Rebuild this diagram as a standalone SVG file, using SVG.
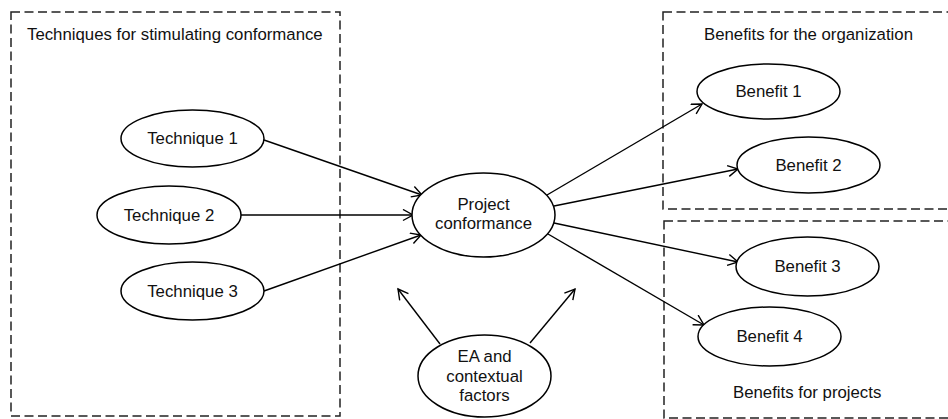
<svg xmlns="http://www.w3.org/2000/svg" width="948" height="419" viewBox="0 0 948 419">
<defs>
<style>
.box{fill:none;stroke:#222;stroke-width:1.5;stroke-dasharray:9 4.5}
.node ellipse{fill:#fff;stroke:#000;stroke-width:1.5}
text{font-family:"Liberation Sans",Arial,sans-serif;font-size:16.8px;fill:#111}
.c{text-anchor:middle}
.edge{stroke:#000;stroke-width:1.4;fill:none;marker-end:url(#arr)}
</style>
<marker id="arr" markerUnits="userSpaceOnUse" markerWidth="14" markerHeight="14" refX="11" refY="6" orient="auto">
<path d="M1,0.5 L11,6 L1,11.5" fill="none" stroke="#000" stroke-width="1.4"/>
</marker>
</defs>
<rect width="948" height="419" fill="#fff"/>
<g id="group-techniques">
<rect class="box" x="11" y="12" width="329" height="404"/>
<text x="27" y="40">Techniques for stimulating conformance</text>
</g>
<g id="group-organization">
<rect class="box" x="663" y="12" width="300" height="197"/>
<text x="704" y="40">Benefits for the organization</text>
</g>
<g id="group-projects">
<rect class="box" x="664" y="221" width="300" height="197"/>
<text x="733" y="398">Benefits for projects</text>
</g>
<g id="connectors">
<line class="edge" x1="264" y1="140" x2="422" y2="195"/>
<line class="edge" x1="241" y1="215" x2="413" y2="215"/>
<line class="edge" x1="264" y1="291" x2="421" y2="235"/>
<line class="edge" x1="547" y1="195" x2="702" y2="104"/>
<line class="edge" x1="554" y1="206" x2="738" y2="169"/>
<line class="edge" x1="554" y1="223" x2="738" y2="262"/>
<line class="edge" x1="548" y1="234" x2="704" y2="325"/>
<line class="edge" x1="440" y1="344" x2="398" y2="289"/>
<line class="edge" x1="530" y1="343" x2="575" y2="289"/>
</g>
<g id="technique1" class="node"><ellipse cx="192.5" cy="138.5" rx="71.5" ry="28.5"/><text class="c" x="192.5" y="144">Technique 1</text></g>
<g id="technique2" class="node"><ellipse cx="169" cy="215" rx="72" ry="29"/><text class="c" x="169" y="221">Technique 2</text></g>
<g id="technique3" class="node"><ellipse cx="192.5" cy="291" rx="71.5" ry="29"/><text class="c" x="192.5" y="297">Technique 3</text></g>
<g id="project-conformance" class="node"><ellipse cx="483.5" cy="215" rx="71.5" ry="42"/><text class="c" x="483.5" y="210">Project</text><text class="c" x="483.5" y="229">conformance</text></g>
<g id="benefit1" class="node"><ellipse cx="768.5" cy="91.5" rx="71.5" ry="27.5"/><text class="c" x="768.5" y="97">Benefit 1</text></g>
<g id="benefit2" class="node"><ellipse cx="808.5" cy="165" rx="71.5" ry="28"/><text class="c" x="808.5" y="171">Benefit 2</text></g>
<g id="benefit3" class="node"><ellipse cx="807.5" cy="266.5" rx="71.5" ry="29.5"/><text class="c" x="807.5" y="272">Benefit 3</text></g>
<g id="benefit4" class="node"><ellipse cx="769.5" cy="336.5" rx="71.5" ry="29.5"/><text class="c" x="769.5" y="342">Benefit 4</text></g>
<g id="ea-factors" class="node"><ellipse cx="484.5" cy="376" rx="66.5" ry="41"/><text class="c" x="484.5" y="362">EA and</text><text class="c" x="484.5" y="382">contextual</text><text class="c" x="484.5" y="401">factors</text></g>
</svg>
